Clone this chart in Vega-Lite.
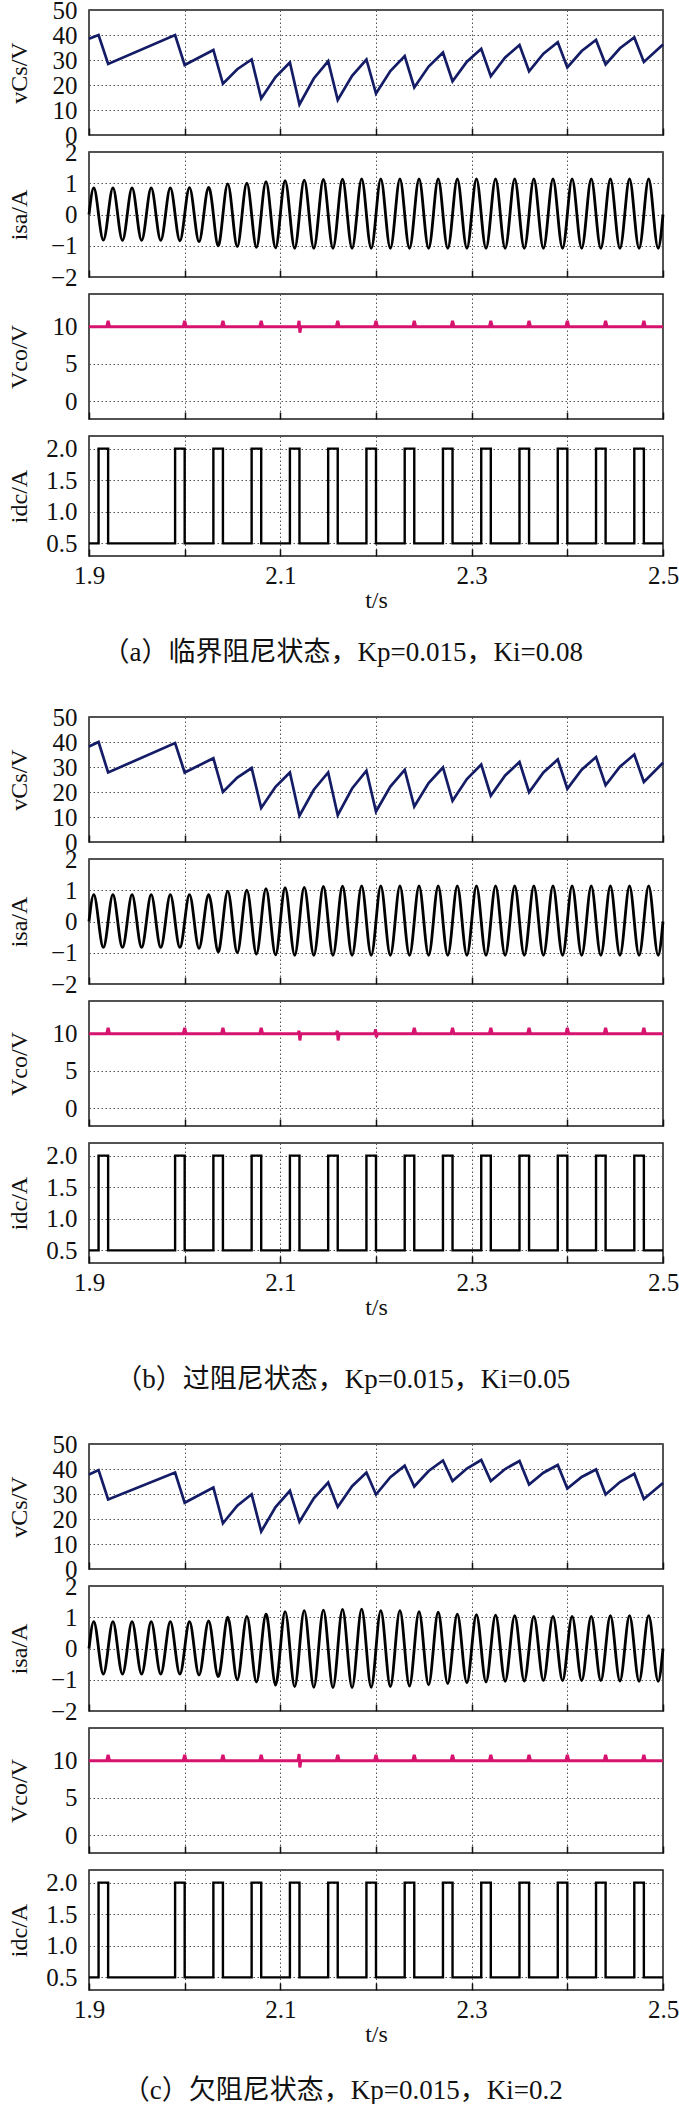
{
  "$schema": "https://vega.github.io/schema/vega-lite/v6.json",
  "background": "white",
  "padding": {"left": 6, "top": -3, "right": 0, "bottom": 0},
  "spacing": 38,
  "resolve": {"scale": {"y": "independent"}},
  "config": {
    "view": {"stroke": "#1a1a1a", "strokeWidth": 1.5},
    "font": "Liberation Serif",
    "axis": {
      "labelFont": "Liberation Serif", "labelFontSize": 25, "labelColor": "#111",
      "titleFont": "Liberation Serif", "titleFontSize": 24, "titleFontWeight": "normal", "titleColor": "#111",
      "gridColor": "#555", "gridDash": [1.5, 2.5], "gridWidth": 1, "gridOpacity": 1,
      "domain": false, "labelFlush": false, "labelOverlap": false, "labelBound": false
    },
    "axisX": {"ticks": true, "tickColor": "#111", "tickWidth": 1.5, "grid": true},
    "axisY": {"ticks": false, "labelPadding": 12, "titleBaseline": "middle", "grid": true},
    "title": {"font": "Liberation Serif, Noto Sans CJK SC, serif", "fontSize": 27, "fontWeight": "normal", "color": "#111", "anchor": "middle"}
  },
  "datasets": {
    "vcs_a": [
      {"t":1.9,"v":38.5},{"t":1.91,"v":40},{"t":1.92,"v":28.4},{"t":1.99,"v":40},{"t":2.0,"v":28},{"t":2.03,"v":34},
      {"t":2.04,"v":20.5},{"t":2.055,"v":26.3},{"t":2.07,"v":30.2},{"t":2.08,"v":14.6},{"t":2.095,"v":23.2},{"t":2.11,"v":29},
      {"t":2.12,"v":12.2},{"t":2.135,"v":22.6},{"t":2.15,"v":29.5},{"t":2.16,"v":14},{"t":2.175,"v":23.7},{"t":2.19,"v":30.2},
      {"t":2.2,"v":16.6},{"t":2.215,"v":25.6},{"t":2.23,"v":31.6},{"t":2.24,"v":19},{"t":2.255,"v":27.4},{"t":2.27,"v":33},
      {"t":2.28,"v":21.5},{"t":2.295,"v":29.3},{"t":2.31,"v":34.5},{"t":2.32,"v":23.5},{"t":2.335,"v":31},{"t":2.35,"v":36},
      {"t":2.36,"v":25.5},{"t":2.375,"v":32.5},{"t":2.39,"v":37.1},{"t":2.4,"v":27},{"t":2.415,"v":33.6},{"t":2.43,"v":38},
      {"t":2.44,"v":28.2},{"t":2.455,"v":34.7},{"t":2.47,"v":39},{"t":2.48,"v":29.2},{"t":2.5,"v":36.2}
    ],
    "vcs_b": [
      {"t":1.9,"v":38.2},{"t":1.91,"v":40},{"t":1.92,"v":27.8},{"t":1.99,"v":39.6},{"t":2.0,"v":27.8},{"t":2.03,"v":33.5},
      {"t":2.04,"v":20},{"t":2.055,"v":25.8},{"t":2.07,"v":29.6},{"t":2.08,"v":13.6},{"t":2.095,"v":22.1},{"t":2.11,"v":27.8},
      {"t":2.12,"v":10.5},{"t":2.135,"v":20.9},{"t":2.15,"v":27.8},{"t":2.16,"v":10.7},{"t":2.175,"v":21.4},{"t":2.19,"v":28.5},
      {"t":2.2,"v":12.2},{"t":2.215,"v":22.2},{"t":2.23,"v":28.9},{"t":2.24,"v":14.2},{"t":2.255,"v":23.6},{"t":2.27,"v":29.8},
      {"t":2.28,"v":16.5},{"t":2.295,"v":25.2},{"t":2.31,"v":31},{"t":2.32,"v":18.5},{"t":2.335,"v":26.6},{"t":2.35,"v":32},
      {"t":2.36,"v":19.9},{"t":2.375,"v":27.8},{"t":2.39,"v":33},{"t":2.4,"v":21.3},{"t":2.415,"v":28.9},{"t":2.43,"v":34},
      {"t":2.44,"v":22.7},{"t":2.455,"v":30.1},{"t":2.47,"v":35},{"t":2.48,"v":24},{"t":2.5,"v":31.7}
    ],
    "vcs_c": [
      {"t":1.9,"v":37.8},{"t":1.91,"v":39.6},{"t":1.92,"v":27.8},{"t":1.99,"v":38.6},{"t":2.0,"v":26.5},{"t":2.03,"v":32.6},
      {"t":2.04,"v":18.3},{"t":2.055,"v":25.3},{"t":2.07,"v":29.9},{"t":2.08,"v":15},{"t":2.095,"v":24.8},{"t":2.11,"v":31.3},
      {"t":2.12,"v":18.9},{"t":2.135,"v":28.3},{"t":2.15,"v":34.6},{"t":2.16,"v":24.8},{"t":2.175,"v":33.1},{"t":2.19,"v":38.6},
      {"t":2.2,"v":29.8},{"t":2.215,"v":36.7},{"t":2.23,"v":41.3},{"t":2.24,"v":33},{"t":2.255,"v":39.2},{"t":2.27,"v":43.4},
      {"t":2.28,"v":35.2},{"t":2.295,"v":40.2},{"t":2.31,"v":43.6},{"t":2.32,"v":35.2},{"t":2.335,"v":40},{"t":2.35,"v":43.2},
      {"t":2.36,"v":33.8},{"t":2.375,"v":38.5},{"t":2.39,"v":41.6},{"t":2.4,"v":32.2},{"t":2.415,"v":36.8},{"t":2.43,"v":39.8},
      {"t":2.44,"v":29.8},{"t":2.455,"v":34.8},{"t":2.47,"v":38.1},{"t":2.48,"v":28},{"t":2.5,"v":34.4}
    ],
    "isa_a": [
      {"t":1.9,"v":0},{"t":1.905,"v":0.85},{"t":1.91,"v":0},{"t":1.915,"v":-0.82},
      {"t":1.92,"v":0},{"t":1.925,"v":0.85},{"t":1.93,"v":0},{"t":1.935,"v":-0.83},
      {"t":1.94,"v":0},{"t":1.945,"v":0.85},{"t":1.95,"v":0},{"t":1.955,"v":-0.83},
      {"t":1.96,"v":0},{"t":1.965,"v":0.85},{"t":1.97,"v":0},{"t":1.975,"v":-0.83},
      {"t":1.98,"v":0},{"t":1.985,"v":0.85},{"t":1.99,"v":0},{"t":1.995,"v":-0.84},
      {"t":2.0,"v":0},{"t":2.005,"v":0.86},{"t":2.01,"v":0},{"t":2.015,"v":-0.87},
      {"t":2.02,"v":0},{"t":2.025,"v":0.87},{"t":2.03,"v":0},{"t":2.035,"v":-1.0},
      {"t":2.04,"v":0},{"t":2.045,"v":0.98},{"t":2.05,"v":0},{"t":2.055,"v":-1.03},
      {"t":2.06,"v":0},{"t":2.065,"v":1.0},{"t":2.07,"v":0},{"t":2.075,"v":-1.05},
      {"t":2.08,"v":0},{"t":2.085,"v":1.05},{"t":2.09,"v":0},{"t":2.095,"v":-1.07},
      {"t":2.1,"v":0},{"t":2.105,"v":1.08},{"t":2.11,"v":0},{"t":2.115,"v":-1.08},
      {"t":2.12,"v":0},{"t":2.125,"v":1.1},{"t":2.13,"v":0},{"t":2.135,"v":-1.08},
      {"t":2.14,"v":0},{"t":2.145,"v":1.12},{"t":2.15,"v":0},{"t":2.155,"v":-1.08},
      {"t":2.16,"v":0},{"t":2.165,"v":1.13},{"t":2.17,"v":0},{"t":2.175,"v":-1.08},
      {"t":2.18,"v":0},{"t":2.185,"v":1.14},{"t":2.19,"v":0},{"t":2.195,"v":-1.08},
      {"t":2.2,"v":0},{"t":2.205,"v":1.14},{"t":2.21,"v":0},{"t":2.215,"v":-1.08},
      {"t":2.22,"v":0},{"t":2.225,"v":1.14},{"t":2.23,"v":0},{"t":2.235,"v":-1.08},
      {"t":2.24,"v":0},{"t":2.245,"v":1.14},{"t":2.25,"v":0},{"t":2.255,"v":-1.08},
      {"t":2.26,"v":0},{"t":2.265,"v":1.14},{"t":2.27,"v":0},{"t":2.275,"v":-1.08},
      {"t":2.28,"v":0},{"t":2.285,"v":1.14},{"t":2.29,"v":0},{"t":2.295,"v":-1.08},
      {"t":2.3,"v":0},{"t":2.305,"v":1.14},{"t":2.31,"v":0},{"t":2.315,"v":-1.08},
      {"t":2.32,"v":0},{"t":2.325,"v":1.14},{"t":2.33,"v":0},{"t":2.335,"v":-1.08},
      {"t":2.34,"v":0},{"t":2.345,"v":1.14},{"t":2.35,"v":0},{"t":2.355,"v":-1.08},
      {"t":2.36,"v":0},{"t":2.365,"v":1.14},{"t":2.37,"v":0},{"t":2.375,"v":-1.08},
      {"t":2.38,"v":0},{"t":2.385,"v":1.14},{"t":2.39,"v":0},{"t":2.395,"v":-1.08},
      {"t":2.4,"v":0},{"t":2.405,"v":1.14},{"t":2.41,"v":0},{"t":2.415,"v":-1.08},
      {"t":2.42,"v":0},{"t":2.425,"v":1.14},{"t":2.43,"v":0},{"t":2.435,"v":-1.08},
      {"t":2.44,"v":0},{"t":2.445,"v":1.14},{"t":2.45,"v":0},{"t":2.455,"v":-1.08},
      {"t":2.46,"v":0},{"t":2.465,"v":1.14},{"t":2.47,"v":0},{"t":2.475,"v":-1.08},
      {"t":2.48,"v":0},{"t":2.485,"v":1.14},{"t":2.49,"v":0},{"t":2.495,"v":-1.08},
      {"t":2.5,"v":0}
    ],
    "isa_b": [
      {"t":1.9,"v":0},{"t":1.905,"v":0.86},{"t":1.91,"v":0},{"t":1.915,"v":-0.83},
      {"t":1.92,"v":0},{"t":1.925,"v":0.86},{"t":1.93,"v":0},{"t":1.935,"v":-0.83},
      {"t":1.94,"v":0},{"t":1.945,"v":0.86},{"t":1.95,"v":0},{"t":1.955,"v":-0.83},
      {"t":1.96,"v":0},{"t":1.965,"v":0.86},{"t":1.97,"v":0},{"t":1.975,"v":-0.83},
      {"t":1.98,"v":0},{"t":1.985,"v":0.86},{"t":1.99,"v":0},{"t":1.995,"v":-0.83},
      {"t":2.0,"v":0},{"t":2.005,"v":0.86},{"t":2.01,"v":0},{"t":2.015,"v":-0.86},
      {"t":2.02,"v":0},{"t":2.025,"v":0.86},{"t":2.03,"v":0},{"t":2.035,"v":-0.97},
      {"t":2.04,"v":0},{"t":2.045,"v":0.97},{"t":2.05,"v":0},{"t":2.055,"v":-1.0},
      {"t":2.06,"v":0},{"t":2.065,"v":1.0},{"t":2.07,"v":0},{"t":2.075,"v":-1.04},
      {"t":2.08,"v":0},{"t":2.085,"v":1.05},{"t":2.09,"v":0},{"t":2.095,"v":-1.07},
      {"t":2.1,"v":0},{"t":2.105,"v":1.08},{"t":2.11,"v":0},{"t":2.115,"v":-1.08},
      {"t":2.12,"v":0},{"t":2.125,"v":1.09},{"t":2.13,"v":0},{"t":2.135,"v":-1.08},
      {"t":2.14,"v":0},{"t":2.145,"v":1.12},{"t":2.15,"v":0},{"t":2.155,"v":-1.08},
      {"t":2.16,"v":0},{"t":2.165,"v":1.13},{"t":2.17,"v":0},{"t":2.175,"v":-1.08},
      {"t":2.18,"v":0},{"t":2.185,"v":1.14},{"t":2.19,"v":0},{"t":2.195,"v":-1.08},
      {"t":2.2,"v":0},{"t":2.205,"v":1.14},{"t":2.21,"v":0},{"t":2.215,"v":-1.08},
      {"t":2.22,"v":0},{"t":2.225,"v":1.14},{"t":2.23,"v":0},{"t":2.235,"v":-1.08},
      {"t":2.24,"v":0},{"t":2.245,"v":1.14},{"t":2.25,"v":0},{"t":2.255,"v":-1.08},
      {"t":2.26,"v":0},{"t":2.265,"v":1.14},{"t":2.27,"v":0},{"t":2.275,"v":-1.08},
      {"t":2.28,"v":0},{"t":2.285,"v":1.14},{"t":2.29,"v":0},{"t":2.295,"v":-1.08},
      {"t":2.3,"v":0},{"t":2.305,"v":1.14},{"t":2.31,"v":0},{"t":2.315,"v":-1.08},
      {"t":2.32,"v":0},{"t":2.325,"v":1.14},{"t":2.33,"v":0},{"t":2.335,"v":-1.08},
      {"t":2.34,"v":0},{"t":2.345,"v":1.14},{"t":2.35,"v":0},{"t":2.355,"v":-1.08},
      {"t":2.36,"v":0},{"t":2.365,"v":1.14},{"t":2.37,"v":0},{"t":2.375,"v":-1.08},
      {"t":2.38,"v":0},{"t":2.385,"v":1.14},{"t":2.39,"v":0},{"t":2.395,"v":-1.08},
      {"t":2.4,"v":0},{"t":2.405,"v":1.14},{"t":2.41,"v":0},{"t":2.415,"v":-1.08},
      {"t":2.42,"v":0},{"t":2.425,"v":1.14},{"t":2.43,"v":0},{"t":2.435,"v":-1.08},
      {"t":2.44,"v":0},{"t":2.445,"v":1.14},{"t":2.45,"v":0},{"t":2.455,"v":-1.08},
      {"t":2.46,"v":0},{"t":2.465,"v":1.14},{"t":2.47,"v":0},{"t":2.475,"v":-1.08},
      {"t":2.48,"v":0},{"t":2.485,"v":1.14},{"t":2.49,"v":0},{"t":2.495,"v":-1.08},
      {"t":2.5,"v":0}
    ],
    "isa_c": [
      {"t":1.9,"v":0},{"t":1.905,"v":0.86},{"t":1.91,"v":0},{"t":1.915,"v":-0.82},
      {"t":1.92,"v":0},{"t":1.925,"v":0.86},{"t":1.93,"v":0},{"t":1.935,"v":-0.82},
      {"t":1.94,"v":0},{"t":1.945,"v":0.86},{"t":1.95,"v":0},{"t":1.955,"v":-0.82},
      {"t":1.96,"v":0},{"t":1.965,"v":0.86},{"t":1.97,"v":0},{"t":1.975,"v":-0.82},
      {"t":1.98,"v":0},{"t":1.985,"v":0.86},{"t":1.99,"v":0},{"t":1.995,"v":-0.82},
      {"t":2.0,"v":0},{"t":2.005,"v":0.86},{"t":2.01,"v":0},{"t":2.015,"v":-0.85},
      {"t":2.02,"v":0},{"t":2.025,"v":0.88},{"t":2.03,"v":0},{"t":2.035,"v":-0.9},
      {"t":2.04,"v":0},{"t":2.045,"v":1.0},{"t":2.05,"v":0},{"t":2.055,"v":-1.0},
      {"t":2.06,"v":0},{"t":2.065,"v":1.03},{"t":2.07,"v":0},{"t":2.075,"v":-1.07},
      {"t":2.08,"v":0},{"t":2.085,"v":1.1},{"t":2.09,"v":0},{"t":2.095,"v":-1.17},
      {"t":2.1,"v":0},{"t":2.105,"v":1.18},{"t":2.11,"v":0},{"t":2.115,"v":-1.22},
      {"t":2.12,"v":0},{"t":2.125,"v":1.21},{"t":2.13,"v":0},{"t":2.135,"v":-1.24},
      {"t":2.14,"v":0},{"t":2.145,"v":1.23},{"t":2.15,"v":0},{"t":2.155,"v":-1.25},
      {"t":2.16,"v":0},{"t":2.165,"v":1.25},{"t":2.17,"v":0},{"t":2.175,"v":-1.25},
      {"t":2.18,"v":0},{"t":2.185,"v":1.26},{"t":2.19,"v":0},{"t":2.195,"v":-1.24},
      {"t":2.2,"v":0},{"t":2.205,"v":1.21},{"t":2.21,"v":0},{"t":2.215,"v":-1.22},
      {"t":2.22,"v":0},{"t":2.225,"v":1.21},{"t":2.23,"v":0},{"t":2.235,"v":-1.2},
      {"t":2.24,"v":0},{"t":2.245,"v":1.18},{"t":2.25,"v":0},{"t":2.255,"v":-1.16},
      {"t":2.26,"v":0},{"t":2.265,"v":1.16},{"t":2.27,"v":0},{"t":2.275,"v":-1.12},
      {"t":2.28,"v":0},{"t":2.285,"v":1.1},{"t":2.29,"v":0},{"t":2.295,"v":-1.1},
      {"t":2.3,"v":0},{"t":2.305,"v":1.08},{"t":2.31,"v":0},{"t":2.315,"v":-1.07},
      {"t":2.32,"v":0},{"t":2.325,"v":1.07},{"t":2.33,"v":0},{"t":2.335,"v":-1.05},
      {"t":2.34,"v":0},{"t":2.345,"v":1.05},{"t":2.35,"v":0},{"t":2.355,"v":-1.04},
      {"t":2.36,"v":0},{"t":2.365,"v":1.03},{"t":2.37,"v":0},{"t":2.375,"v":-1.03},
      {"t":2.38,"v":0},{"t":2.385,"v":1.03},{"t":2.39,"v":0},{"t":2.395,"v":-1.03},
      {"t":2.4,"v":0},{"t":2.405,"v":1.03},{"t":2.41,"v":0},{"t":2.415,"v":-1.03},
      {"t":2.42,"v":0},{"t":2.425,"v":1.03},{"t":2.43,"v":0},{"t":2.435,"v":-1.03},
      {"t":2.44,"v":0},{"t":2.445,"v":1.05},{"t":2.45,"v":0},{"t":2.455,"v":-1.04},
      {"t":2.46,"v":0},{"t":2.465,"v":1.05},{"t":2.47,"v":0},{"t":2.475,"v":-1.05},
      {"t":2.48,"v":0},{"t":2.485,"v":1.05},{"t":2.49,"v":0},{"t":2.495,"v":-1.05},
      {"t":2.5,"v":0}
    ],
    "vco_a": [
      {"t":1.9,"v":10},
      {"t":1.9185,"v":10},{"t":1.92,"v":10.8},{"t":1.9215,"v":10},
      {"t":1.9985,"v":10},{"t":2.0,"v":10.8},{"t":2.0015,"v":10},
      {"t":2.0385,"v":10},{"t":2.04,"v":10.8},{"t":2.0415,"v":10},
      {"t":2.0785,"v":10},{"t":2.08,"v":10.8},{"t":2.0815,"v":10},
      {"t":2.1185,"v":10},{"t":2.1196,"v":10.8},{"t":2.1204,"v":9.2},{"t":2.1215,"v":10},
      {"t":2.1585,"v":10},{"t":2.16,"v":10.8},{"t":2.1615,"v":10},
      {"t":2.1985,"v":10},{"t":2.2,"v":10.8},{"t":2.2015,"v":10},
      {"t":2.2385,"v":10},{"t":2.24,"v":10.8},{"t":2.2415,"v":10},
      {"t":2.2785,"v":10},{"t":2.28,"v":10.8},{"t":2.2815,"v":10},
      {"t":2.3185,"v":10},{"t":2.32,"v":10.8},{"t":2.3215,"v":10},
      {"t":2.3585,"v":10},{"t":2.36,"v":10.8},{"t":2.3615,"v":10},
      {"t":2.3985,"v":10},{"t":2.4,"v":10.8},{"t":2.4015,"v":10},
      {"t":2.4385,"v":10},{"t":2.44,"v":10.8},{"t":2.4415,"v":10},
      {"t":2.4785,"v":10},{"t":2.48,"v":10.8},{"t":2.4815,"v":10},
      {"t":2.5,"v":10}
    ],
    "vco_b": [
      {"t":1.9,"v":10},
      {"t":1.9185,"v":10},{"t":1.92,"v":10.8},{"t":1.9215,"v":10},
      {"t":1.9985,"v":10},{"t":2.0,"v":10.8},{"t":2.0015,"v":10},
      {"t":2.0385,"v":10},{"t":2.04,"v":10.8},{"t":2.0415,"v":10},
      {"t":2.0785,"v":10},{"t":2.08,"v":10.8},{"t":2.0815,"v":10},
      {"t":2.1185,"v":10},{"t":2.1196,"v":10.4},{"t":2.1204,"v":9.1},{"t":2.1215,"v":10},
      {"t":2.1585,"v":10},{"t":2.1596,"v":10.4},{"t":2.1604,"v":9.1},{"t":2.1615,"v":10},
      {"t":2.1985,"v":10},{"t":2.1996,"v":10.6},{"t":2.2004,"v":9.5},{"t":2.2015,"v":10},
      {"t":2.2385,"v":10},{"t":2.24,"v":10.8},{"t":2.2415,"v":10},
      {"t":2.2785,"v":10},{"t":2.28,"v":10.8},{"t":2.2815,"v":10},
      {"t":2.3185,"v":10},{"t":2.32,"v":10.8},{"t":2.3215,"v":10},
      {"t":2.3585,"v":10},{"t":2.36,"v":10.8},{"t":2.3615,"v":10},
      {"t":2.3985,"v":10},{"t":2.4,"v":10.8},{"t":2.4015,"v":10},
      {"t":2.4385,"v":10},{"t":2.44,"v":10.8},{"t":2.4415,"v":10},
      {"t":2.4785,"v":10},{"t":2.48,"v":10.8},{"t":2.4815,"v":10},
      {"t":2.5,"v":10}
    ],
    "vco_c": [
      {"t":1.9,"v":10},
      {"t":1.9185,"v":10},{"t":1.92,"v":10.8},{"t":1.9215,"v":10},
      {"t":1.9985,"v":10},{"t":2.0,"v":10.8},{"t":2.0015,"v":10},
      {"t":2.0385,"v":10},{"t":2.04,"v":10.8},{"t":2.0415,"v":10},
      {"t":2.0785,"v":10},{"t":2.08,"v":10.8},{"t":2.0815,"v":10},
      {"t":2.1185,"v":10},{"t":2.1196,"v":10.9},{"t":2.1204,"v":9.1},{"t":2.1215,"v":10},
      {"t":2.1585,"v":10},{"t":2.16,"v":10.8},{"t":2.1615,"v":10},
      {"t":2.1985,"v":10},{"t":2.2,"v":10.8},{"t":2.2015,"v":10},
      {"t":2.2385,"v":10},{"t":2.24,"v":10.8},{"t":2.2415,"v":10},
      {"t":2.2785,"v":10},{"t":2.28,"v":10.8},{"t":2.2815,"v":10},
      {"t":2.3185,"v":10},{"t":2.32,"v":10.8},{"t":2.3215,"v":10},
      {"t":2.3585,"v":10},{"t":2.36,"v":10.8},{"t":2.3615,"v":10},
      {"t":2.3985,"v":10},{"t":2.4,"v":10.8},{"t":2.4015,"v":10},
      {"t":2.4385,"v":10},{"t":2.44,"v":10.8},{"t":2.4415,"v":10},
      {"t":2.4785,"v":10},{"t":2.48,"v":10.8},{"t":2.4815,"v":10},
      {"t":2.5,"v":10}
    ],
    "idc": [
      {"t":1.9,"v":0.5},{"t":1.91,"v":2},{"t":1.92,"v":0.5},{"t":1.99,"v":2},{"t":2.0,"v":0.5},
      {"t":2.03,"v":2},{"t":2.04,"v":0.5},{"t":2.07,"v":2},{"t":2.08,"v":0.5},{"t":2.11,"v":2},{"t":2.12,"v":0.5},
      {"t":2.15,"v":2},{"t":2.16,"v":0.5},{"t":2.19,"v":2},{"t":2.2,"v":0.5},{"t":2.23,"v":2},{"t":2.24,"v":0.5},
      {"t":2.27,"v":2},{"t":2.28,"v":0.5},{"t":2.31,"v":2},{"t":2.32,"v":0.5},{"t":2.35,"v":2},{"t":2.36,"v":0.5},
      {"t":2.39,"v":2},{"t":2.4,"v":0.5},{"t":2.43,"v":2},{"t":2.44,"v":0.5},{"t":2.47,"v":2},{"t":2.48,"v":0.5},
      {"t":2.5,"v":0.5}
    ]
  },
  "vconcat": [
    {
      "title": {"text": "（a）临界阻尼状态，Kp=0.015，Ki=0.08", "orient": "bottom", "anchor": "middle", "offset": 27},
      "spacing": 17,
      "bounds": "flush",
      "resolve": {"scale": {"y": "independent"}},
      "vconcat": [
        {"width": 574, "height": 125, "data": {"name": "vcs_a"},
         "mark": {"type": "line", "color": "#141c66", "strokeWidth": 2.7},
         "encoding": {
           "x": {"field": "t", "type": "quantitative", "scale": {"domain": [1.9, 2.5], "nice": false, "zero": false}, "axis": {"values": [1.9,2,2.1,2.2,2.3,2.4,2.5], "labels": false, "title": null, "tickSize": -7}},
           "y": {"field": "v", "type": "quantitative", "scale": {"domain": [0, 50], "nice": false}, "axis": {"values": [0,10,20,30,40,50], "title": "vCs/V", "titleX": -70}}}},
        {"width": 574, "height": 125, "data": {"name": "isa_a"},
         "mark": {"type": "line", "color": "#000", "strokeWidth": 2.8, "interpolate": "natural"},
         "encoding": {
           "x": {"field": "t", "type": "quantitative", "scale": {"domain": [1.9, 2.5], "nice": false, "zero": false}, "axis": {"values": [1.9,2,2.1,2.2,2.3,2.4,2.5], "labels": false, "title": null, "tickSize": -7}},
           "y": {"field": "v", "type": "quantitative", "scale": {"domain": [-2, 2], "nice": false}, "axis": {"values": [-2,-1,0,1,2], "title": "isa/A", "titleX": -70}}}},
        {"width": 574, "height": 125, "data": {"name": "vco_a"},
         "mark": {"type": "line", "color": "#d6136e", "strokeWidth": 3},
         "encoding": {
           "x": {"field": "t", "type": "quantitative", "scale": {"domain": [1.9, 2.5], "nice": false, "zero": false}, "axis": {"values": [1.9,2,2.1,2.2,2.3,2.4,2.5], "labels": false, "title": null, "tickSize": -7}},
           "y": {"field": "v", "type": "quantitative", "scale": {"domain": [-2.4, 14.4], "nice": false, "zero": false}, "axis": {"values": [0,5,10], "title": "Vco/V", "titleX": -70}}}},
        {"width": 574, "height": 120, "data": {"name": "idc"},
         "mark": {"type": "line", "color": "#000", "strokeWidth": 2.4, "interpolate": "step-after"},
         "encoding": {
           "x": {"field": "t", "type": "quantitative", "scale": {"domain": [1.9, 2.5], "nice": false, "zero": false}, "axis": {"values": [1.9,2,2.1,2.2,2.3,2.4,2.5], "format": ".1f", "labelExpr": "round(datum.value*10) % 2 == 1 ? datum.label : ''", "title": "t/s", "tickSize": -7, "labelPadding": 14, "titlePadding": 0}},
           "y": {"field": "v", "type": "quantitative", "scale": {"domain": [0.3, 2.2], "nice": false, "zero": false}, "axis": {"values": [0.5,1,1.5,2], "format": ".1f", "title": "idc/A", "titleX": -70}}}}
      ]
    },
    {
      "title": {"text": "（b）过阻尼状态，Kp=0.015，Ki=0.05", "orient": "bottom", "anchor": "middle", "offset": 47},
      "spacing": 17,
      "bounds": "flush",
      "resolve": {"scale": {"y": "independent"}},
      "vconcat": [
        {"width": 574, "height": 125, "data": {"name": "vcs_b"},
         "mark": {"type": "line", "color": "#141c66", "strokeWidth": 2.7},
         "encoding": {
           "x": {"field": "t", "type": "quantitative", "scale": {"domain": [1.9, 2.5], "nice": false, "zero": false}, "axis": {"values": [1.9,2,2.1,2.2,2.3,2.4,2.5], "labels": false, "title": null, "tickSize": -7}},
           "y": {"field": "v", "type": "quantitative", "scale": {"domain": [0, 50], "nice": false}, "axis": {"values": [0,10,20,30,40,50], "title": "vCs/V", "titleX": -70}}}},
        {"width": 574, "height": 125, "data": {"name": "isa_b"},
         "mark": {"type": "line", "color": "#000", "strokeWidth": 2.8, "interpolate": "natural"},
         "encoding": {
           "x": {"field": "t", "type": "quantitative", "scale": {"domain": [1.9, 2.5], "nice": false, "zero": false}, "axis": {"values": [1.9,2,2.1,2.2,2.3,2.4,2.5], "labels": false, "title": null, "tickSize": -7}},
           "y": {"field": "v", "type": "quantitative", "scale": {"domain": [-2, 2], "nice": false}, "axis": {"values": [-2,-1,0,1,2], "title": "isa/A", "titleX": -70}}}},
        {"width": 574, "height": 125, "data": {"name": "vco_b"},
         "mark": {"type": "line", "color": "#d6136e", "strokeWidth": 3},
         "encoding": {
           "x": {"field": "t", "type": "quantitative", "scale": {"domain": [1.9, 2.5], "nice": false, "zero": false}, "axis": {"values": [1.9,2,2.1,2.2,2.3,2.4,2.5], "labels": false, "title": null, "tickSize": -7}},
           "y": {"field": "v", "type": "quantitative", "scale": {"domain": [-2.4, 14.4], "nice": false, "zero": false}, "axis": {"values": [0,5,10], "title": "Vco/V", "titleX": -70}}}},
        {"width": 574, "height": 120, "data": {"name": "idc"},
         "mark": {"type": "line", "color": "#000", "strokeWidth": 2.4, "interpolate": "step-after"},
         "encoding": {
           "x": {"field": "t", "type": "quantitative", "scale": {"domain": [1.9, 2.5], "nice": false, "zero": false}, "axis": {"values": [1.9,2,2.1,2.2,2.3,2.4,2.5], "format": ".1f", "labelExpr": "round(datum.value*10) % 2 == 1 ? datum.label : ''", "title": "t/s", "tickSize": -7, "labelPadding": 14, "titlePadding": 0}},
           "y": {"field": "v", "type": "quantitative", "scale": {"domain": [0.3, 2.2], "nice": false, "zero": false}, "axis": {"values": [0.5,1,1.5,2], "format": ".1f", "title": "idc/A", "titleX": -70}}}}
      ]
    },
    {
      "title": {"text": "（c）欠阻尼状态，Kp=0.015，Ki=0.2", "orient": "bottom", "anchor": "middle", "offset": 31},
      "spacing": 17,
      "bounds": "flush",
      "resolve": {"scale": {"y": "independent"}},
      "vconcat": [
        {"width": 574, "height": 125, "data": {"name": "vcs_c"},
         "mark": {"type": "line", "color": "#141c66", "strokeWidth": 2.7},
         "encoding": {
           "x": {"field": "t", "type": "quantitative", "scale": {"domain": [1.9, 2.5], "nice": false, "zero": false}, "axis": {"values": [1.9,2,2.1,2.2,2.3,2.4,2.5], "labels": false, "title": null, "tickSize": -7}},
           "y": {"field": "v", "type": "quantitative", "scale": {"domain": [0, 50], "nice": false}, "axis": {"values": [0,10,20,30,40,50], "title": "vCs/V", "titleX": -70}}}},
        {"width": 574, "height": 125, "data": {"name": "isa_c"},
         "mark": {"type": "line", "color": "#000", "strokeWidth": 2.8, "interpolate": "natural"},
         "encoding": {
           "x": {"field": "t", "type": "quantitative", "scale": {"domain": [1.9, 2.5], "nice": false, "zero": false}, "axis": {"values": [1.9,2,2.1,2.2,2.3,2.4,2.5], "labels": false, "title": null, "tickSize": -7}},
           "y": {"field": "v", "type": "quantitative", "scale": {"domain": [-2, 2], "nice": false}, "axis": {"values": [-2,-1,0,1,2], "title": "isa/A", "titleX": -70}}}},
        {"width": 574, "height": 125, "data": {"name": "vco_c"},
         "mark": {"type": "line", "color": "#d6136e", "strokeWidth": 3},
         "encoding": {
           "x": {"field": "t", "type": "quantitative", "scale": {"domain": [1.9, 2.5], "nice": false, "zero": false}, "axis": {"values": [1.9,2,2.1,2.2,2.3,2.4,2.5], "labels": false, "title": null, "tickSize": -7}},
           "y": {"field": "v", "type": "quantitative", "scale": {"domain": [-2.4, 14.4], "nice": false, "zero": false}, "axis": {"values": [0,5,10], "title": "Vco/V", "titleX": -70}}}},
        {"width": 574, "height": 120, "data": {"name": "idc"},
         "mark": {"type": "line", "color": "#000", "strokeWidth": 2.4, "interpolate": "step-after"},
         "encoding": {
           "x": {"field": "t", "type": "quantitative", "scale": {"domain": [1.9, 2.5], "nice": false, "zero": false}, "axis": {"values": [1.9,2,2.1,2.2,2.3,2.4,2.5], "format": ".1f", "labelExpr": "round(datum.value*10) % 2 == 1 ? datum.label : ''", "title": "t/s", "tickSize": -7, "labelPadding": 14, "titlePadding": 0}},
           "y": {"field": "v", "type": "quantitative", "scale": {"domain": [0.3, 2.2], "nice": false, "zero": false}, "axis": {"values": [0.5,1,1.5,2], "format": ".1f", "title": "idc/A", "titleX": -70}}}}
      ]
    }
  ]
}
